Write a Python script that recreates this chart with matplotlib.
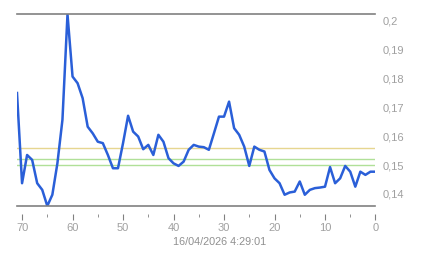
import numpy as np
import matplotlib.pyplot as plt

# valores (x = 71 ... 0)
x = np.arange(71, -1, -1)
y = [0.1750, 0.1437, 0.1535, 0.1518, 0.1437, 0.1414, 0.1358, 0.1397,
     0.1506, 0.1657, 0.2023, 0.1807, 0.1784, 0.1732, 0.1633, 0.1610,
     0.1581, 0.1576, 0.1535, 0.1489, 0.1489, 0.1576, 0.1671, 0.1616,
     0.1599, 0.1555, 0.1570, 0.1535, 0.1605, 0.1581, 0.1524, 0.1506,
     0.1497, 0.1512, 0.1553, 0.1570, 0.1564, 0.1562, 0.1553, 0.1610,
     0.1668, 0.1668, 0.1720, 0.1628, 0.1605, 0.1564, 0.1497, 0.1564,
     0.1553, 0.1547, 0.1483, 0.1454, 0.1437, 0.1397, 0.1405, 0.1408,
     0.1443, 0.1397, 0.1414, 0.1420, 0.1422, 0.1425, 0.1493, 0.1437,
     0.1454, 0.1497, 0.1477, 0.1425, 0.1477, 0.1466, 0.1477, 0.1477]

# lineas de referencia
nivel_amarillo = 0.1558
niveles_verdes = [0.1521, 0.1500]

yticks = [0.14, 0.15, 0.16, 0.17, 0.18, 0.19, 0.20]
ytick_labels = ["0,14", "0,15", "0,16", "0,17", "0,18", "0,19", "0,2"]
xticks = [70, 60, 50, 40, 30, 20, 10, 0]
fecha = "16/04/2026 4:29:01"

plt.rcParams['font.family'] = ['Liberation Sans', 'DejaVu Sans']
gris = '#a0a0a0'

fig = plt.figure(figsize=(4.43, 2.58), dpi=100)
ax = fig.add_axes([17 / 443, 52 / 258, 358.5 / 443, 191.7 / 258])

ax.axhline(nivel_amarillo, color='#e6d690', lw=1)
for n in niveles_verdes:
    ax.axhline(n, color='#b0e098', lw=1)

ax.plot(x, y, color='#2a5fd8', lw=1.8, zorder=3)

ax.set_xlim(71, 0)
ax.set_ylim(min(y), max(y))

# lineas gris arriba y abajo
ax.axhline(max(y), color='#808080', lw=1.2, zorder=4, clip_on=False)
ax.axhline(min(y), color='#808080', lw=1.2, zorder=4, clip_on=False)

for s in ['left', 'right', 'top']:
    ax.spines[s].set_visible(False)
ax.spines['bottom'].set_position(('outward', 6))
ax.spines['bottom'].set_visible(False)

ax.set_xticks(xticks)
ax.set_xticks(np.arange(65, 0, -10), minor=True)
ax.tick_params(axis='x', which='major', length=4, color='#808080',
               labelcolor=gris, labelsize=8, pad=2)
ax.tick_params(axis='x', which='minor', length=2, color='#808080')

ax.yaxis.tick_right()
ax.set_yticks(yticks)
ax.set_yticklabels(ytick_labels)
ax.tick_params(axis='y', length=0, labelcolor=gris, labelsize=8, pad=5)

fig.text(220 / 443, 1 - 242 / 258, fecha, ha='center', va='center',
         color='#909090', fontsize=7.8)

fig.savefig('out.png', dpi=100)
